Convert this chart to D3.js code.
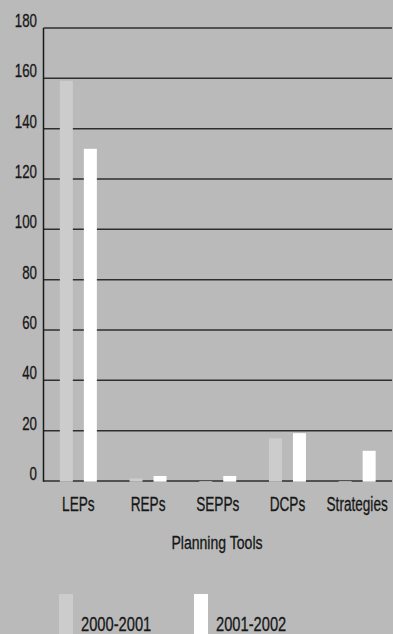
<!DOCTYPE html>
<html>
<head>
<meta charset="utf-8">
<script src="https://cdn.jsdelivr.net/npm/d3@7"></script>
<style>
  html, body { margin: 0; padding: 0; background: #bababa; }
  svg { display: block; }
  text { font-family: "Liberation Sans", Arial, sans-serif; fill: #161616; stroke: #161616; stroke-width: 0.3; }
</style>
</head>
<body>
<svg id="chart" width="393" height="634"></svg>
<script>
// Planning instruments made, by year
const categories = ["LEPs", "REPs", "SEPPs", "DCPs", "Strategies"];
const seriesNames = ["2000-2001", "2001-2002"];
const values2000 = [159, 1, 0, 17, 0];
const values2001 = [132, 2, 2, 19, 12];
const yTicks = [0, 20, 40, 60, 80, 100, 120, 140, 160, 180];
const seriesColors = ["#cccccc", "#ffffff"];

const W = 393, H = 634;
const margin = { top: 28, right: 1, bottom: 153, left: 43.5 };
const svg = d3.select("#chart");

// text helper: condensed label of size fs, squeezed by sq, anchored at (px, py)
function label(sel, px, py, fs, sq) {
  return sel.attr("transform", (d, i) => `translate(${px(d, i)},${py(d, i)}) scale(${sq},1)`)
    .attr("font-size", fs);
}

const x = d3.scaleBand()
  .domain(categories)
  .range([margin.left, W - margin.right]);

const x1 = d3.scaleBand()
  .domain(seriesNames)
  .range([0, 37])
  .paddingInner(11 / 24);

const y = d3.scaleLinear()
  .domain([0, 180])
  .range([H - margin.bottom, margin.top]);

// horizontal gridlines at each tick
svg.append("g")
  .selectAll("line")
  .data(yTicks)
  .join("line")
  .attr("x1", margin.left)
  .attr("x2", W - margin.right)
  .attr("y1", d => y(d))
  .attr("y2", d => y(d))
  .attr("stroke", "#2e2e2e")
  .attr("stroke-width", 1.5);

// left axis line
svg.append("line")
  .attr("x1", margin.left).attr("x2", margin.left)
  .attr("y1", y(180)).attr("y2", y(0) + 0.75)
  .attr("stroke", "#1a1a1a")
  .attr("stroke-width", 1.5);

// y tick labels
label(svg.append("g")
  .selectAll("text")
  .data(yTicks)
  .join("text")
  .attr("text-anchor", "end")
  .text(d => d), () => 37, d => y(d) - 1, 19, 0.7);

// bars
const data = categories.map((c, i) => ({ cat: c, vals: [values2000[i], values2001[i]] }));
const groups = svg.append("g")
  .selectAll("g")
  .data(data)
  .join("g")
  .attr("transform", d => `translate(${x(d.cat) + x.bandwidth() / 2 - 18.5},0)`);

groups.selectAll("rect")
  .data(d => d.vals.map((v, j) => ({ name: seriesNames[j], v, j })))
  .join("rect")
  .attr("x", d => x1(d.name))
  .attr("width", x1.bandwidth())
  .attr("y", d => y(d.v))
  .attr("height", d => y(0) - y(d.v) + 0.75)
  .attr("fill", d => seriesColors[d.j]);

// category labels
label(svg.append("g")
  .selectAll("text")
  .data(categories)
  .join("text")
  .attr("text-anchor", "middle")
  .text(d => d), d => x(d) + x.bandwidth() / 2, () => 511, 20, 0.68);

// axis title
label(svg.append("g").selectAll("text")
  .data(["Planning Tools"])
  .join("text")
  .attr("text-anchor", "middle")
  .text(d => d), () => 217, () => 549, 19, 0.74);

// legend
const legendX = [59, 194];
svg.append("g")
  .selectAll("rect")
  .data(seriesNames)
  .join("rect")
  .attr("x", (d, i) => legendX[i])
  .attr("y", 594)
  .attr("width", 14)
  .attr("height", 40)
  .attr("fill", (d, i) => seriesColors[i]);
label(svg.append("g")
  .selectAll("text")
  .data(seriesNames)
  .join("text")
  .text(d => d), (d, i) => legendX[i] + 22, () => 630.5, 21, 0.7);
</script>
</body>
</html>
